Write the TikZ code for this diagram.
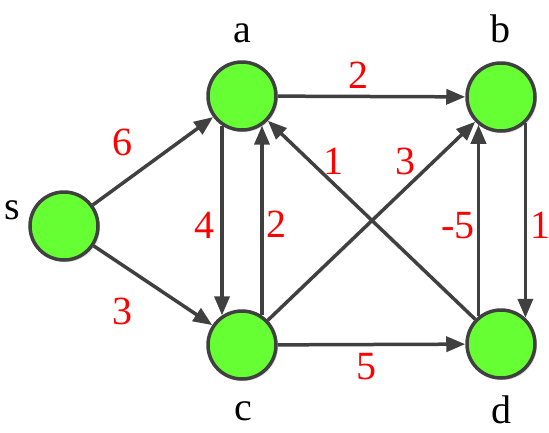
\documentclass[tikz,border=0pt]{standalone}
\usepackage{fontspec}
\setmainfont{Liberation Serif}
\usetikzlibrary{arrows.meta,shadows}
\definecolor{vgreen}{RGB}{102,255,51}
\definecolor{edgegray}{RGB}{64,64,64}
\begin{document}
\begin{tikzpicture}[x = 1pt, y = -1pt,
  vertex/.style = {circle, draw = edgegray, line width = 3.5pt, fill = vgreen,
    minimum size = 68pt, inner sep = 0pt,
    drop shadow = {shadow xshift = 2pt, shadow yshift = -2pt, opacity = .25}},
  vlabel/.style = {inner sep = 0pt, font = \fontsize{40}{44}\selectfont},
  wlabel/.style = {inner sep = 0pt, text = red, font = \fontsize{40}{44}\selectfont},
  link/.style = {draw = edgegray, line width = 3.5pt,
    -{Triangle[length = 19pt, width = 15pt]}}]
\useasboundingbox (0,0) rectangle (549,432);
% vertices
\node (s) [vertex] at (64,226) {};
\node (a) [vertex] at (242,96) {};
\node (b) [vertex] at (501,97) {};
\node (c) [vertex] at (242,345) {};
\node (d) [vertex] at (501,344) {};
\node (ns) [vlabel] at (12,210) {s};
\node (na) [vlabel] at (242,33) {a};
\node (nb) [vlabel] at (500,29) {b};
\node (nc) [vlabel] at (243,411) {c};
\node (nd) [vlabel] at (501,410) {d};
% edges
\draw [link] (s) -- (a);
\draw [link] (s) -- (c);
\draw [link] (a) -- (b);
\draw [link] (a.236) -- (c.124);
\draw [link] (c.56) -- (a.304);
\draw [link] (c) -- (b);
\draw [link] (d) -- (a);
\draw [link] (c) -- (d);
\draw [link] (d.129) -- (b.231);
\draw [link] (b.313) -- (d.47);
% weights
\node (wsa) [wlabel] at (122,142) {6};
\node (wsc) [wlabel] at (122,311) {3};
\node (wab) [wlabel] at (358,75) {2};
\node (wac) [wlabel] at (204,225) {4};
\node (wca) [wlabel] at (276,224) {2};
\node (wda) [wlabel] at (333,161) {1};
\node (wcb) [wlabel] at (405,161) {3};
\node (wcd) [wlabel] at (366,367) {5};
\node (wdb) [wlabel] at (458,226) {-5};
\node (wbd) [wlabel] at (540,225) {1};
\end{tikzpicture}
\end{document}
